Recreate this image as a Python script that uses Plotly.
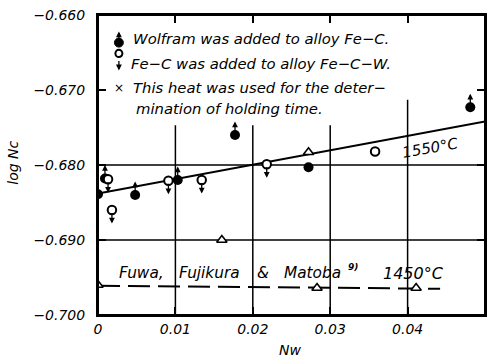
import plotly.graph_objects as go

# ---- data ----
wf_x = [0.0, 0.0009, 0.0048, 0.0103, 0.0177, 0.0272, 0.0481]
wf_y = [-0.6839, -0.6818, -0.6840, -0.6820, -0.6760, -0.6803, -0.6723]
wf_arrow = [False, True, True, True, True, False, True]

fc_x = [0.0013, 0.0018, 0.0091, 0.0134, 0.0218, 0.0358]
fc_y = [-0.6819, -0.6860, -0.6821, -0.6820, -0.6799, -0.6782]
fc_arrow = [True, True, True, True, True, False]

tri_x = [0.0272, 0.0160]
tri_y = [-0.6783, -0.6900]

fuwa_x = [0.0, 0.0283, 0.0411]
fuwa_y = [-0.6960, -0.6964, -0.6964]

line1550_x = [0.0, 0.05]
line1550_y = [-0.6838, -0.6742]

line1450_x = [0.0, 0.0442]
line1450_y = [-0.6961, -0.6965]

x_ticks = [0, 0.01, 0.02, 0.03, 0.04, 0.05]
x_ticklabels = ["0", "0.01", "0.02", "0.03", "0.04", "0.05"]
y_ticks = [-0.70, -0.69, -0.68, -0.67, -0.66]
y_ticklabels = ["\u22120.700", "\u22120.690", "\u22120.680", "\u22120.670", "\u22120.660"]

# grid lines (they stop below the legend block)
grid_x = [0.01, 0.02, 0.03, 0.04]
grid_x_top = [-0.6747, -0.6747, -0.6747, -0.6713]
grid_y = [-0.68, -0.69]

legend_lines = [
    "Wolfram was added to alloy Fe\u2212C.",
    "Fe\u2212C was added to alloy Fe\u2212C\u2212W.",
    "This heat was used for the deter\u2212",
    "mination of holding time.",
]

ref_words = ["Fuwa,", "Fujikura", "&amp;", "Matoba"]
ref_word_x = [0.00245, 0.0102, 0.0203, 0.0238]

FONT = "DejaVu Sans"
def f(size):
    return dict(family=FONT, size=size, style="italic", color="black")

fig = go.Figure()

fig.add_trace(go.Scatter(x=line1550_x, y=line1550_y, mode="lines",
                         line=dict(color="black", width=2), showlegend=False))
fig.add_trace(go.Scatter(x=line1450_x, y=line1450_y, mode="lines",
                         line=dict(color="black", width=2, dash="22px,8px"), showlegend=False))
fig.add_trace(go.Scatter(x=wf_x, y=wf_y, mode="markers",
                         marker=dict(symbol="circle", size=10, color="black"), showlegend=False))
fig.add_trace(go.Scatter(x=fc_x, y=fc_y, mode="markers",
                         marker=dict(symbol="circle", size=8.5, color="white",
                                     line=dict(color="black", width=2)), showlegend=False))
fig.add_trace(go.Scatter(x=tri_x + fuwa_x, y=tri_y + fuwa_y, mode="markers",
                         marker=dict(symbol="triangle-up", size=9, color="white",
                                     line=dict(color="black", width=1.6)), showlegend=False))

shapes = []
for gx, gt in zip(grid_x, grid_x_top):
    shapes.append(dict(type="line", xref="x", yref="y", x0=gx, x1=gx, y0=y_ticks[0], y1=gt,
                       line=dict(color="black", width=1.5), layer="below"))
for gy in grid_y:
    shapes.append(dict(type="line", xref="x", yref="y", x0=x_ticks[0], x1=x_ticks[-1], y0=gy, y1=gy,
                       line=dict(color="black", width=1.5), layer="below"))
# plot frame
shapes.append(dict(type="rect", xref="paper", yref="paper", x0=0, x1=1, y0=0, y1=1,
                   line=dict(color="black", width=2), fillcolor="rgba(0,0,0,0)", layer="above"))
# legend glyphs
shapes.append(dict(type="circle", xref="paper", yref="paper", x0=0.0425, x1=0.0655, y0=0.893, y1=0.923,
                   fillcolor="black", line=dict(color="black", width=1), layer="above"))
shapes.append(dict(type="circle", xref="paper", yref="paper", x0=0.045, x1=0.063, y0=0.86, y1=0.884,
                   fillcolor="white", line=dict(color="black", width=2), layer="above"))

annos = []

def arrow(x, y, up, xref="x", yref="y", length=15, standoff=3):
    return dict(x=x, y=y, xref=xref, yref=yref, ax=0, ay=-length if up else length,
                text="", showarrow=True, arrowside="start",
                startarrowhead=2, startarrowsize=0.9, arrowwidth=1.3,
                arrowcolor="black", standoff=standoff)

for x, y, a in zip(wf_x, wf_y, wf_arrow):
    if a:
        annos.append(arrow(x, y, True))
for x, y, a in zip(fc_x, fc_y, fc_arrow):
    if a:
        annos.append(arrow(x, y, False))

# legend text
leg_y = [0.92, 0.84, 0.757, 0.69]
leg_x = [0.086, 0.081, 0.086, 0.094]
for t, lx, ly in zip(legend_lines, leg_x, leg_y):
    annos.append(dict(x=lx, y=ly, xref="paper", yref="paper", text=t, showarrow=False,
                      xanchor="left", yanchor="middle", font=f(14.8)))
annos.append(dict(x=0.054, y=0.757, xref="paper", yref="paper", text="\u00d7", showarrow=False,
                  xanchor="center", yanchor="middle",
                  font=dict(family=FONT, size=12, color="black")))
# legend glyph arrows
annos.append(arrow(0.054, 0.907, True, "paper", "paper", 13, 2))
annos.append(arrow(0.054, 0.857, False, "paper", "paper", 14, 3))

# curve labels
annos.append(dict(x=0.0430, y=-0.6777, xref="x", yref="y", text="1550\u00b0C", showarrow=False,
                  xanchor="center", yanchor="middle", textangle=-10, font=f(15)))
for w, wx in zip(ref_words, ref_word_x):
    annos.append(dict(x=wx, y=-0.6944, xref="x", yref="y", text=w, showarrow=False,
                      xanchor="left", yanchor="middle", font=f(15.3)))
annos.append(dict(x=0.0330, y=-0.6936, xref="x", yref="y", text="<b>9)</b>", showarrow=False,
                  xanchor="center", yanchor="middle", font=f(9)))
annos.append(dict(x=0.0407, y=-0.6944, xref="x", yref="y", text="1450\u00b0C", showarrow=False,
                  xanchor="center", yanchor="middle", font=f(16)))
# axis titles
annos.append(dict(x=0.496, y=-0.117, xref="paper", yref="paper", text="Nw", showarrow=False,
                  xanchor="center", yanchor="middle", font=f(14)))
annos.append(dict(x=-0.22, y=0.507, xref="paper", yref="paper", text="log Nc", showarrow=False,
                  xanchor="center", yanchor="middle", textangle=-90, font=f(14)))

axis_common = dict(showline=True, linecolor="black", linewidth=2, mirror="ticks",
                   ticks="inside", ticklen=8, tickcolor="black", tickwidth=1.5,
                   showgrid=False, zeroline=False,
                   automargin=False, tickfont=f(14))

fig.update_layout(
    width=500, height=361,
    margin=dict(l=98, r=15, t=15, b=46),
    paper_bgcolor="white", plot_bgcolor="white",
    annotations=annos, shapes=shapes,
    font=dict(family=FONT, color="black"),
    xaxis=dict(range=[0, 0.05], tickvals=x_ticks, ticktext=x_ticklabels, **axis_common),
    yaxis=dict(range=[-0.70, -0.66], tickvals=y_ticks, ticktext=y_ticklabels,
               ticklabelstandoff=8, **axis_common),
)

fig.write_html("out.html", config={"displayModeBar": False},
               post_script="document.body.style.margin='0';document.body.style.overflow='hidden';")
